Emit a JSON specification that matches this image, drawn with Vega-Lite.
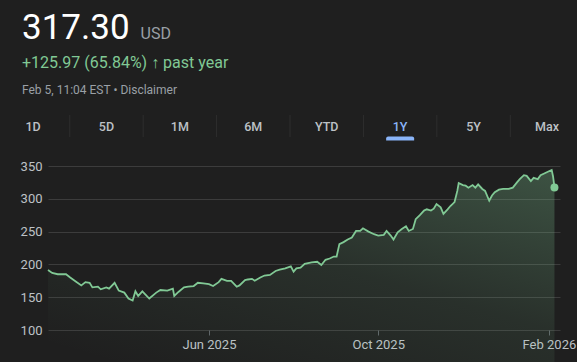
{
  "$schema": "https://vega.github.io/schema/vega-lite/v6.json",
  "background": "#1f1f1f",
  "padding": {"left": 20, "top": 11, "right": 0, "bottom": 0},
  "config": {
    "font": "Roboto",
    "view": {"stroke": null},
    "title": {"anchor": "start", "frame": "group"}
  },
  "bounds": "flush",
  "spacing": 29,
  "vconcat": [
    {
      "width": 1,
      "height": 12,
      "data": {"values": []},
      "mark": "point",
      "encoding": {},
      "title": {"text": "317.30", "fontSize": 35, "fontWeight": 400, "color": "#ffffff", "baseline": "alphabetic", "offset": 0, "dx": -26}
    },
    {
      "width": 535,
      "height": 22,
      "data": {"values": [
        {"tab": "1D", "selected": false},
        {"tab": "5D", "selected": false},
        {"tab": "1M", "selected": false},
        {"tab": "6M", "selected": false},
        {"tab": "YTD", "selected": false},
        {"tab": "1Y", "selected": true},
        {"tab": "5Y", "selected": false},
        {"tab": "Max", "selected": false}
      ]},
      "title": {
        "text": "+125.97 (65.84%) ↑ past year",
        "fontSize": 16,
        "fontWeight": 400,
        "color": "#81c995",
        "subtitle": "Feb 5, 11:04 EST • Disclaimer",
        "subtitleColor": "#9aa0a6",
        "subtitleFontSize": 12,
        "subtitlePadding": 14,
        "offset": 19,
        "dx": -26
      },
      "encoding": {
        "x": {
          "field": "tab",
          "type": "ordinal",
          "sort": ["1D", "5D", "1M", "6M", "YTD", "1Y", "5Y", "Max"],
          "scale": {"type": "point", "padding": 0, "range": [-15, 499]},
          "axis": null
        }
      },
      "layer": [
        {
          "mark": {"type": "text", "fontSize": 12.5, "fontWeight": 500, "baseline": "middle", "dy": 1},
          "encoding": {
            "text": {"field": "tab"},
            "color": {"condition": {"test": "datum.selected", "value": "#8ab4f8"}, "value": "#bdc1c6"}
          }
        },
        {
          "transform": [{"filter": "datum.tab !== '1D'"}],
          "mark": {"type": "rule", "color": "#2e2e2e", "strokeWidth": 1, "xOffset": -36.7}
        },
        {
          "transform": [{"filter": "datum.selected"}],
          "mark": {"type": "tick", "orient": "horizontal", "size": 28, "thickness": 4, "color": "#8ab4f8", "opacity": 1, "yOffset": 12.5, "cornerRadiusTopLeft": 3, "cornerRadiusTopRight": 3}
        }
      ]
    },
    {
      "width": 512,
      "height": 164,
      "data": {"values": [
        {"date": "2025-02-05", "price": 191.33},
        {"date": "2025-02-08", "price": 187},
        {"date": "2025-02-12", "price": 185},
        {"date": "2025-02-18", "price": 185},
        {"date": "2025-02-21", "price": 180},
        {"date": "2025-02-25", "price": 174},
        {"date": "2025-03-01", "price": 168},
        {"date": "2025-03-04", "price": 173},
        {"date": "2025-03-07", "price": 172},
        {"date": "2025-03-09", "price": 165},
        {"date": "2025-03-13", "price": 166},
        {"date": "2025-03-15", "price": 162},
        {"date": "2025-03-19", "price": 165},
        {"date": "2025-03-21", "price": 163},
        {"date": "2025-03-25", "price": 172},
        {"date": "2025-03-28", "price": 160},
        {"date": "2025-04-01", "price": 157},
        {"date": "2025-04-04", "price": 148},
        {"date": "2025-04-07", "price": 145},
        {"date": "2025-04-09", "price": 159},
        {"date": "2025-04-11", "price": 152},
        {"date": "2025-04-14", "price": 159},
        {"date": "2025-04-19", "price": 148},
        {"date": "2025-04-24", "price": 157},
        {"date": "2025-04-27", "price": 161},
        {"date": "2025-05-02", "price": 160},
        {"date": "2025-05-06", "price": 163},
        {"date": "2025-05-07", "price": 152},
        {"date": "2025-05-10", "price": 158},
        {"date": "2025-05-14", "price": 165},
        {"date": "2025-05-17", "price": 166},
        {"date": "2025-05-21", "price": 167},
        {"date": "2025-05-24", "price": 172},
        {"date": "2025-05-28", "price": 171},
        {"date": "2025-06-01", "price": 170},
        {"date": "2025-06-04", "price": 167},
        {"date": "2025-06-08", "price": 173},
        {"date": "2025-06-10", "price": 178},
        {"date": "2025-06-14", "price": 175},
        {"date": "2025-06-17", "price": 175},
        {"date": "2025-06-21", "price": 166},
        {"date": "2025-06-23", "price": 168},
        {"date": "2025-06-27", "price": 176},
        {"date": "2025-06-29", "price": 177},
        {"date": "2025-07-02", "price": 178},
        {"date": "2025-07-04", "price": 175},
        {"date": "2025-07-08", "price": 180},
        {"date": "2025-07-11", "price": 183},
        {"date": "2025-07-15", "price": 184},
        {"date": "2025-07-19", "price": 190},
        {"date": "2025-07-22", "price": 192},
        {"date": "2025-07-26", "price": 194},
        {"date": "2025-07-30", "price": 197},
        {"date": "2025-08-01", "price": 189},
        {"date": "2025-08-03", "price": 194},
        {"date": "2025-08-06", "price": 195},
        {"date": "2025-08-09", "price": 201},
        {"date": "2025-08-14", "price": 203},
        {"date": "2025-08-18", "price": 204},
        {"date": "2025-08-21", "price": 199},
        {"date": "2025-08-24", "price": 207},
        {"date": "2025-08-27", "price": 209},
        {"date": "2025-08-30", "price": 212},
        {"date": "2025-09-01", "price": 212},
        {"date": "2025-09-03", "price": 231},
        {"date": "2025-09-06", "price": 234},
        {"date": "2025-09-09", "price": 238},
        {"date": "2025-09-12", "price": 241},
        {"date": "2025-09-15", "price": 251},
        {"date": "2025-09-18", "price": 251},
        {"date": "2025-09-20", "price": 255},
        {"date": "2025-09-24", "price": 250},
        {"date": "2025-09-28", "price": 246},
        {"date": "2025-10-01", "price": 244},
        {"date": "2025-10-05", "price": 245},
        {"date": "2025-10-07", "price": 251},
        {"date": "2025-10-10", "price": 244},
        {"date": "2025-10-12", "price": 238},
        {"date": "2025-10-15", "price": 249},
        {"date": "2025-10-18", "price": 254},
        {"date": "2025-10-21", "price": 258},
        {"date": "2025-10-23", "price": 251},
        {"date": "2025-10-26", "price": 254},
        {"date": "2025-10-28", "price": 269},
        {"date": "2025-10-31", "price": 275},
        {"date": "2025-11-03", "price": 282},
        {"date": "2025-11-05", "price": 284},
        {"date": "2025-11-08", "price": 282},
        {"date": "2025-11-10", "price": 285},
        {"date": "2025-11-12", "price": 292},
        {"date": "2025-11-15", "price": 287},
        {"date": "2025-11-17", "price": 277},
        {"date": "2025-11-20", "price": 284},
        {"date": "2025-11-22", "price": 289},
        {"date": "2025-11-25", "price": 295},
        {"date": "2025-11-27", "price": 312},
        {"date": "2025-11-28", "price": 324},
        {"date": "2025-12-01", "price": 321},
        {"date": "2025-12-03", "price": 320},
        {"date": "2025-12-05", "price": 317},
        {"date": "2025-12-08", "price": 321},
        {"date": "2025-12-10", "price": 317},
        {"date": "2025-12-12", "price": 322},
        {"date": "2025-12-15", "price": 315},
        {"date": "2025-12-17", "price": 312},
        {"date": "2025-12-20", "price": 297},
        {"date": "2025-12-22", "price": 305},
        {"date": "2025-12-24", "price": 310},
        {"date": "2025-12-27", "price": 314},
        {"date": "2025-12-30", "price": 315},
        {"date": "2026-01-03", "price": 315},
        {"date": "2026-01-06", "price": 317},
        {"date": "2026-01-09", "price": 325},
        {"date": "2026-01-11", "price": 330},
        {"date": "2026-01-14", "price": 336},
        {"date": "2026-01-16", "price": 335},
        {"date": "2026-01-19", "price": 327},
        {"date": "2026-01-21", "price": 332},
        {"date": "2026-01-24", "price": 330},
        {"date": "2026-01-26", "price": 336},
        {"date": "2026-01-29", "price": 339},
        {"date": "2026-02-01", "price": 342},
        {"date": "2026-02-03", "price": 344},
        {"date": "2026-02-04", "price": 334},
        {"date": "2026-02-05", "price": 317.3}
      ]},
      "encoding": {
        "x": {
          "field": "date",
          "type": "temporal",
          "scale": {"type": "utc", "domain": [{"year": 2025, "month": 2, "date": 5, "utc": true}, {"year": 2026, "month": 2, "date": 9, "utc": true}]},
          "axis": {
            "values": [{"year": 2025, "month": 6, "date": 1, "utc": true}, {"year": 2025, "month": 10, "date": 1, "utc": true}, {"year": 2026, "month": 2, "date": 1, "utc": true}],
            "format": "%b %Y",
            "grid": false,
            "domain": false,
            "ticks": true,
            "tickSize": 5,
            "tickColor": "#5f6368",
            "labelColor": "#bdc1c6",
            "labelFontSize": 13,
            "labelPadding": 3,
            "labelOverlap": false,
            "title": null
          }
        },
        "y": {
          "field": "price",
          "type": "quantitative",
          "scale": {"domain": [100, 350], "zero": false, "nice": false},
          "axis": {
            "values": [100, 150, 200, 250, 300, 350],
            "grid": true,
            "gridColor": "#3c3c3c",
            "gridWidth": 1,
            "domain": false,
            "ticks": false,
            "labelColor": "#bdc1c6",
            "labelFontSize": 13,
            "labelPadding": 6,
            "title": "USD",
            "titleAngle": 0,
            "titleX": 92,
            "titleY": -128,
            "titleAlign": "left",
            "titleBaseline": "alphabetic",
            "titleFontSize": 16,
            "titleFontWeight": 400,
            "titleColor": "#9aa0a6"
          }
        }
      },
      "layer": [
        {
          "mark": {
            "type": "area",
            "color": {
              "gradient": "linear",
              "x1": 1, "y1": 0, "x2": 0.35, "y2": 1,
              "stops": [
                {"offset": 0, "color": "rgba(129,201,149,0.3)"},
                {"offset": 0.5, "color": "rgba(129,201,149,0.1)"},
                {"offset": 1, "color": "rgba(129,201,149,0)"}
              ]
            }
          }
        },
        {
          "mark": {"type": "line", "color": "#81c995", "strokeWidth": 1.8}
        },
        {
          "transform": [{"filter": "datum.price == 317.3"}],
          "mark": {"type": "point", "filled": true, "color": "#81c995", "size": 64, "opacity": 1}
        }
      ]
    }
  ]
}
